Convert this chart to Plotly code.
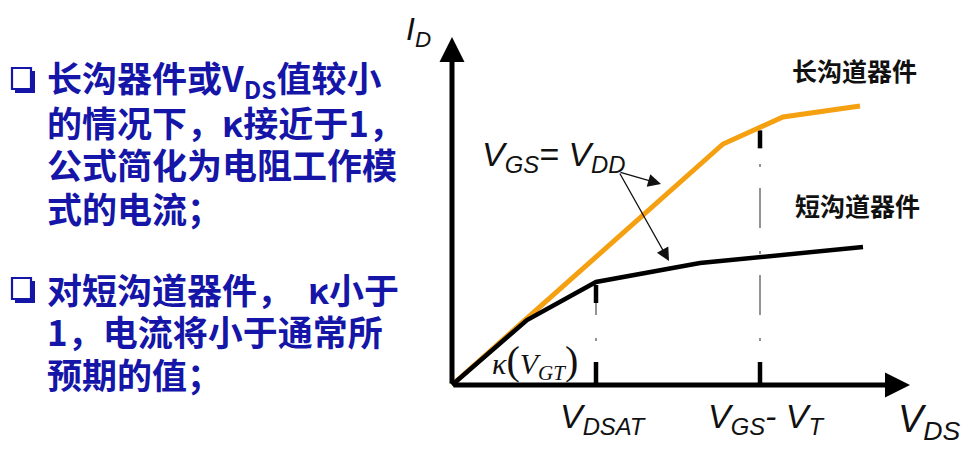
import numpy as np
import plotly.graph_objects as go

# ---------------- data (arbitrary units) ----------------
vds_long = [0, 27.1, 33.1, 40.8]          # long-channel device, V_GS = V_DD
id_long = [0, 24.1, 26.8, 27.9]
vds_short = [0, 7.5, 14.4, 24.8, 41.1]    # short-channel device
id_short = [0, 6.5, 10.3, 12.2, 13.8]
v_dsat = 14.4
v_gs_minus_vt = 30.8
axis_x_max = 45.8
axis_y_max = 34.8

left_lines = [
    "长沟器件或V<sub>DS</sub>值较小",
    "的情况下，κ接近于1，",
    "公式简化为电阻工作模",
    "式的电流；",
    "对短沟道器件，\u00a0\u00a0κ小于",
    "1，电流将小于通常所",
    "预期的值；",
]
left_line_y = [78, 121, 164, 207, 288, 330, 373]
bullet_y = [80, 290]

W, H = 968, 458
X0, Y0, S = 452, 385, 10.0  # pixel origin and pixels per unit

def px(x, y):
    return x / W, 1 - y / H

fig = go.Figure()

# vertical marker lines at V_DSAT and V_GS - V_T
tick_len = 2.3
top_mark = 2.1
for xv, top in [(v_dsat, np.interp(v_dsat, vds_short, id_short)),
                (v_gs_minus_vt, np.interp(v_gs_minus_vt, vds_long, id_long))]:
    fig.add_trace(go.Scatter(x=[xv, xv], y=[tick_len + 2.1, top - top_mark], mode="lines",
                             line=dict(color="#666666", width=1.4, dash="3px,23px,40px,21px"),
                             hoverinfo="skip", showlegend=False))
    fig.add_trace(go.Scatter(x=[xv, xv], y=[0, tick_len], mode="lines",
                             line=dict(color="black", width=4.5), hoverinfo="skip", showlegend=False))
    fig.add_trace(go.Scatter(x=[xv, xv], y=[top - top_mark, top - 0.3], mode="lines",
                             line=dict(color="black", width=4.5), hoverinfo="skip", showlegend=False))

fig.add_trace(go.Scatter(x=vds_long, y=id_long, mode="lines",
                         line=dict(color="#F5A011", width=5), hoverinfo="skip", showlegend=False))
fig.add_trace(go.Scatter(x=vds_short, y=id_short, mode="lines",
                         line=dict(color="black", width=4.5), hoverinfo="skip", showlegend=False))

annotations = []
# axes with arrows
annotations.append(dict(x=axis_x_max, y=0, ax=0, ay=0, xref="x", yref="y", axref="x", ayref="y",
                        text="", showarrow=True, arrowhead=2, arrowsize=1, arrowwidth=5,
                        arrowcolor="black", standoff=0))
annotations.append(dict(x=0, y=axis_y_max, ax=0, ay=0, xref="x", yref="y", axref="x", ayref="y",
                        text="", showarrow=True, arrowhead=2, arrowsize=1, arrowwidth=5,
                        arrowcolor="black", standoff=0))
# V_GS = V_DD pointer arrows
for ex, ey in [(20.9, 20.1), (21.7, 12.4)]:
    annotations.append(dict(x=ex, y=ey, ax=16.7, ay=21.3, xref="x", yref="y", axref="x", ayref="y",
                            text="", showarrow=True, arrowhead=2, arrowsize=2, arrowwidth=1.3,
                            arrowcolor="#111111", standoff=0))

def label(text, x, y, size, family, color="#111111", xanchor="left", yanchor="middle"):
    px_, py_ = px(x, y)
    annotations.append(dict(x=px_, y=py_, xref="paper", yref="paper", text=text, showarrow=False,
                            xanchor=xanchor, yanchor=yanchor,
                            font=dict(size=size, family=family, color=color)))

blue = "#1515a8"
cjk = "Noto Sans CJK SC"
for t, y in zip(left_lines, left_line_y):
    label("<b>" + t + "</b>", 45, y, 35, cjk, color=blue)

arial = "Liberation Sans, Arial"
label("<i>I<sub>D</sub></i>", 404, 32, 32, arial)
label("<i>V<sub>GS</sub>= V<sub>DD</sub></i>", 480, 156, 34, arial)
label("<i>V<sub>DSAT</sub></i>", 558, 418, 34, arial)
label("<i>V<sub>GS</sub>- V<sub>T</sub></i>", 706, 418, 34, arial)
label("<i>V<sub>DS</sub></i>", 896, 422, 38, arial)
label("<i>κ</i><span style='font-size:40px'>(</span><i>V<sub>GT</sub></i><span style='font-size:40px'>)</span>",
      490, 361, 30, "Liberation Serif, Times New Roman")
label("<b>长沟道器件</b>", 790, 70, 25, cjk, color="#111111")
label("<b>短沟道器件</b>", 793, 205, 25, cjk, color="#111111")

# bullet squares (shadowed box) as shapes
shapes = []
for y in bullet_y:
    x1, y1 = px(12, y - 12)
    x2, y2 = px(31, y + 9)
    shapes.append(dict(type="rect", xref="paper", yref="paper", x0=x1, y0=y1, x1=x2, y1=y2,
                       line=dict(color=blue, width=2.2), fillcolor="rgba(0,0,0,0)"))
    a1, b1 = px(31, y - 9)
    a2, b2 = px(35, y + 13)
    shapes.append(dict(type="rect", xref="paper", yref="paper", x0=a1, y0=b1, x1=a2, y1=b2,
                       line=dict(width=0), fillcolor=blue))
    c1, d1 = px(15, y + 9)
    c2, d2 = px(35, y + 13)
    shapes.append(dict(type="rect", xref="paper", yref="paper", x0=c1, y0=d1, x1=c2, y1=d2,
                       line=dict(width=0), fillcolor=blue))

fig.update_layout(
    width=W, height=H, margin=dict(l=0, r=0, t=0, b=0),
    paper_bgcolor="white", plot_bgcolor="white",
    xaxis=dict(range=[-X0 / S, (W - X0) / S], visible=False, fixedrange=True),
    yaxis=dict(range=[-(H - Y0) / S, Y0 / S], visible=False, fixedrange=True),
    annotations=annotations, shapes=shapes,
)
fig.write_html("out.html", config={"displayModeBar": False},
               post_script="document.body.style.margin='0';document.body.style.overflow='hidden';")
